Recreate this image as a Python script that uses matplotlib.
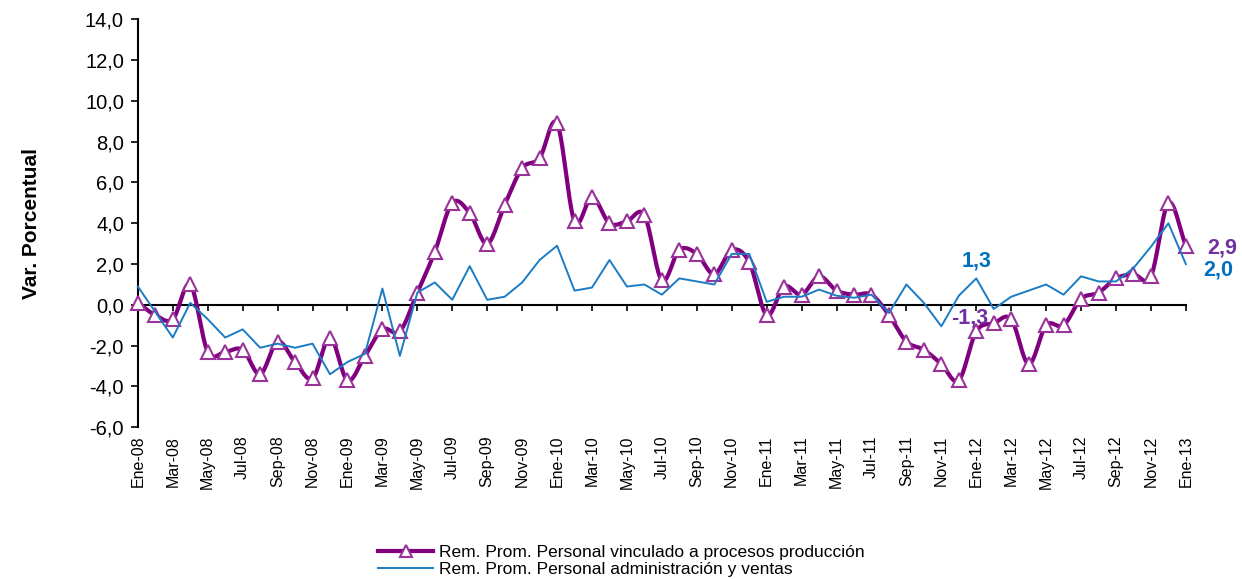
import numpy as np
import matplotlib as mpl
mpl.use('Agg')
import matplotlib.pyplot as plt

plt.rcParams['font.family'] = ['Liberation Sans', 'DejaVu Sans']

# monthly series Ene-08 .. Ene-13
meses = ['Ene', 'Feb', 'Mar', 'Abr', 'May', 'Jun', 'Jul', 'Ago', 'Sep', 'Oct', 'Nov', 'Dic']
etiquetas = ['%s-%02d' % (meses[i % 12], 8 + i // 12) for i in range(61)]

produccion = [0.1, -0.5, -0.7, 1.0, -2.3, -2.3, -2.2, -3.4, -1.8, -2.8, -3.6, -1.6,
              -3.7, -2.5, -1.2, -1.3, 0.6, 2.6, 5.0, 4.5, 3.0, 4.9, 6.7, 7.2,
              8.9, 4.1, 5.3, 4.0, 4.1, 4.4, 1.2, 2.7, 2.5, 1.5, 2.7, 2.1,
              -0.5, 0.9, 0.5, 1.4, 0.7, 0.5, 0.5, -0.5, -1.8, -2.2, -2.9, -3.7,
              -1.3, -0.9, -0.7, -2.9, -1.0, -1.0, 0.3, 0.6, 1.3, 1.5, 1.4, 5.0,
              2.9]

administracion = [0.9, -0.35, -1.6, 0.1, -0.7, -1.6, -1.2, -2.1, -1.9, -2.1, -1.9, -3.4,
                  -2.8, -2.4, 0.8, -2.5, 0.6, 1.1, 0.25, 1.9, 0.25, 0.4, 1.1, 2.2,
                  2.9, 0.7, 0.85, 2.2, 0.9, 1.0, 0.5, 1.3, 1.15, 1.0, 2.5, 2.5,
                  0.15, 0.4, 0.4, 0.75, 0.45, 0.35, 0.5, -0.4, 1.0, 0.1, -1.05, 0.45,
                  1.3, -0.2, 0.4, 0.7, 1.0, 0.5, 1.4, 1.15, 1.15, 1.8, 2.85, 4.0,
                  2.0]

serie_prod = 'Rem. Prom. Personal vinculado a procesos producción'
serie_adm = 'Rem. Prom. Personal administración y ventas'

c_prod = '#800080'
c_mark = '#993399'
c_adm = '#1B7CC4'


def suavizar(x, y, n=20):
    """Catmull-Rom smoothing, similar to the Excel 'smoothed line'."""
    x = np.asarray(x, float)
    y = np.asarray(y, float)
    px = np.concatenate([[2 * x[0] - x[1]], x, [2 * x[-1] - x[-2]]])
    py = np.concatenate([[2 * y[0] - y[1]], y, [2 * y[-1] - y[-2]]])
    xs, ys = [], []
    t = np.linspace(0, 1, n, endpoint=False)
    for i in range(1, len(px) - 2):
        for p, out in ((px, xs), (py, ys)):
            p0, p1, p2, p3 = p[i - 1], p[i], p[i + 1], p[i + 2]
            out.append(0.5 * ((2 * p1) + (-p0 + p2) * t
                              + (2 * p0 - 5 * p1 + 4 * p2 - p3) * t ** 2
                              + (-p0 + 3 * p1 - 3 * p2 + p3) * t ** 3))
    xs.append([x[-1]])
    ys.append([y[-1]])
    return np.concatenate(xs), np.concatenate(ys)


x = np.arange(len(produccion))

fig = plt.figure(figsize=(12.42, 5.79), dpi=100)
ax = fig.add_axes([0.111, 0.262, 0.8438, 0.7047])

sx, sy = suavizar(x, produccion)
ax.plot(sx, sy, color=c_prod, lw=3, zorder=3, solid_capstyle='round', clip_on=False)
ax.plot(x, produccion, ls='none', marker='^', ms=10, mfc='white', mec=c_mark,
        mew=1.5, zorder=4, clip_on=False)
ax.plot(x, administracion, color=c_adm, lw=1.4, zorder=5, clip_on=False)

# legend proxies
h1, = ax.plot([], [], color=c_prod, lw=3, marker='^', ms=9, mfc='white',
              mec=c_mark, mew=1.5, label=serie_prod)
h2, = ax.plot([], [], color=c_adm, lw=1.4, label=serie_adm)

ax.set_xlim(0, 60)
ax.set_ylim(-6, 14)
yt = np.arange(-6, 14.1, 2)
ax.set_yticks(yt)
ax.set_yticklabels([('%.1f' % v).replace('.', ',') for v in yt])
ax.tick_params(axis='y', labelsize=14.5, length=5, width=1.2, direction='out', pad=5)
ax.set_ylabel('Var. Porcentual', fontsize=15, fontweight='bold', labelpad=32)

for s in ['top', 'right']:
    ax.spines[s].set_visible(False)
ax.spines['left'].set_linewidth(1.5)
ax.spines['bottom'].set_position(('data', 0))
ax.spines['bottom'].set_linewidth(1.5)
ax.set_xticks(x[::2])
ax.tick_params(axis='x', labelbottom=False, length=4, width=1.2, direction='out')

# category labels at the bottom of the plot
sec = ax.secondary_xaxis('bottom')
sec.set_xticks(x[::2])
sec.set_xticklabels(etiquetas[::2], rotation=90, fontsize=11.5)
sec.tick_params(length=0, pad=6)
sec.spines['bottom'].set_visible(False)

ax.text(48, 2.15, '1,3', color='#0070C0', fontsize=15.5, fontweight='bold',
        ha='center', va='center', zorder=6)
ax.text(47.6, -0.65, '-1,3', color='#7030A0', fontsize=15.5, fontweight='bold',
        ha='center', va='center', zorder=6)
ax.text(61.2, 2.8, '2,9', color='#7030A0', fontsize=15.5, fontweight='bold',
        ha='left', va='center', clip_on=False)
ax.text(61.0, 1.7, '2,0', color='#0070C0', fontsize=15.5, fontweight='bold',
        ha='left', va='center', clip_on=False)

fig.legend(handles=[h1, h2], loc='upper center', bbox_to_anchor=(0.5, 1 - 545 / 579),
           bbox_transform=fig.transFigure, frameon=False, fontsize=12.5,
           handlelength=3.2, handletextpad=0.3, labelspacing=0.1,
           borderaxespad=0, borderpad=0)

fig.savefig('out.png', dpi=100)
